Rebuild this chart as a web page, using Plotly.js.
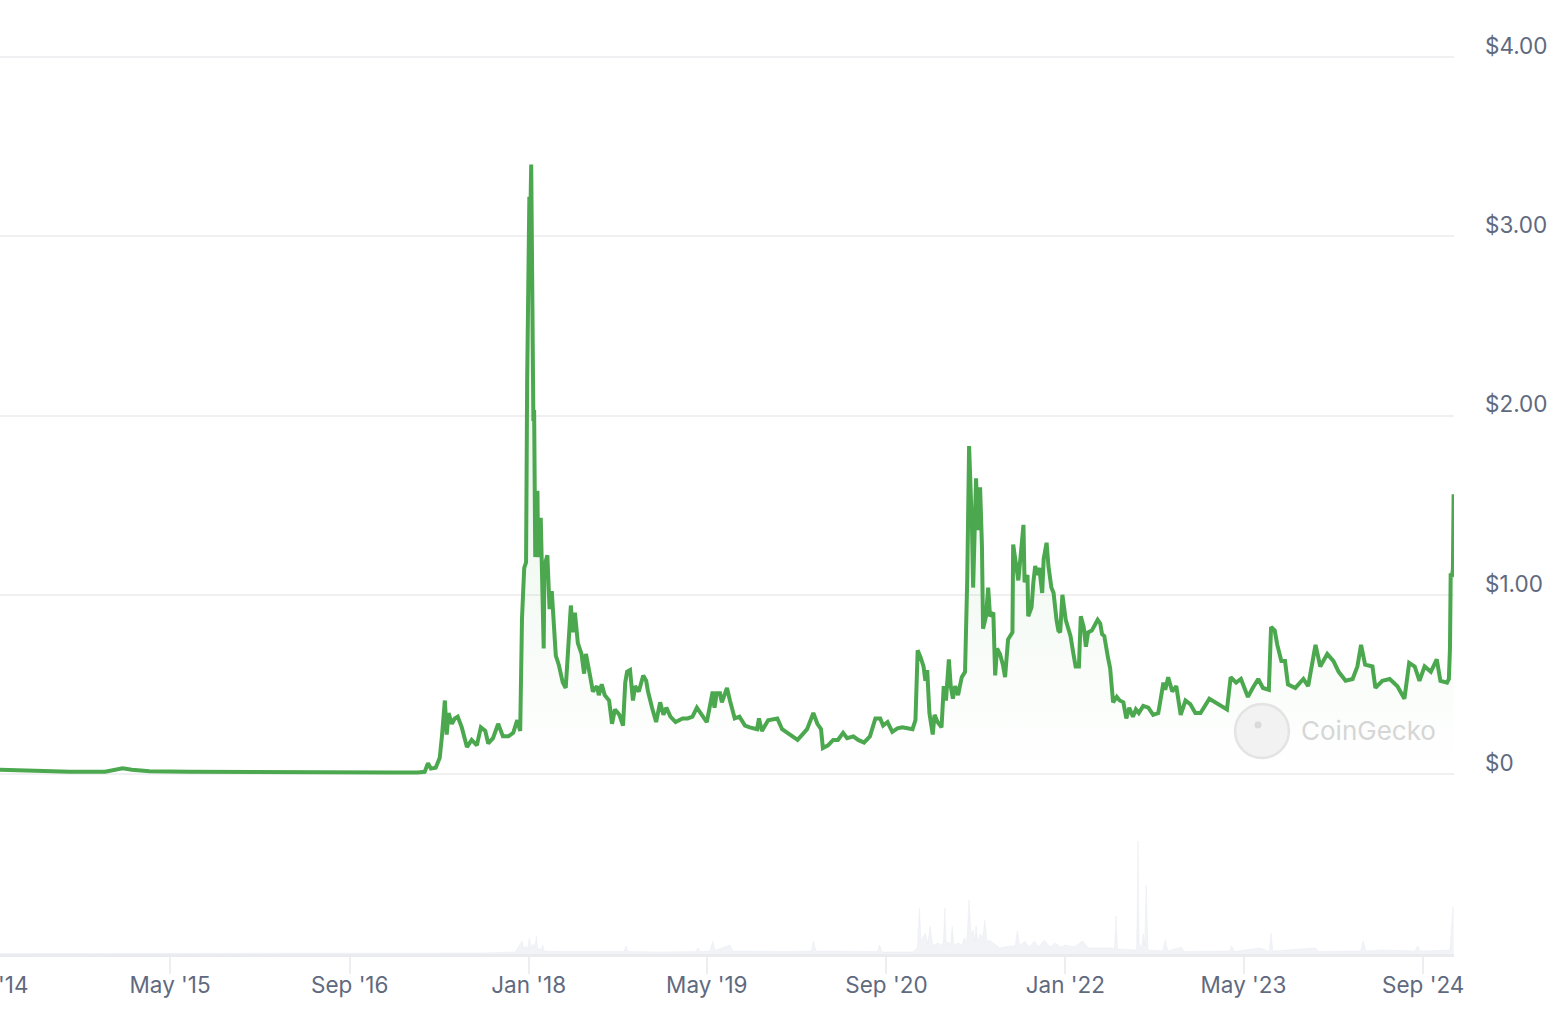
<!DOCTYPE html>
<html>
<head>
<meta charset="utf-8">
<script src="https://cdn.plot.ly/plotly-3.0.1.min.js"></script>
<style>
  html, body { margin: 0; padding: 0; background: #ffffff; }
  #chart { width: 1566px; height: 1012px; }
</style>
</head>
<body>
<div id="chart"></div>
<script>
// ---- Price series (USD) ----
const priceDates = [
  "2014-01-23","2014-02-25","2014-04-27","2014-08-01","2014-11-05","2014-12-04","2014-12-23","2015-01-17","2015-03-06","2015-06-23",
  "2015-11-07","2016-03-22","2016-08-06","2016-12-20","2017-03-05","2017-03-24","2017-04-02","2017-04-10","2017-04-23","2017-05-04",
  "2017-05-10","2017-05-18","2017-05-23","2017-05-28","2017-06-06","2017-06-14","2017-06-22","2017-07-03","2017-07-17","2017-07-30",
  "2017-08-13","2017-08-24","2017-09-05","2017-09-13","2017-09-26","2017-10-10","2017-10-23","2017-11-07","2017-11-20","2017-12-01",
  "2017-12-09","2017-12-14","2017-12-20","2017-12-25","2017-12-28","2018-01-03","2018-01-06","2018-01-08","2018-01-14","2018-01-16",
  "2018-01-19","2018-01-25","2018-01-27","2018-02-03","2018-02-11","2018-02-13","2018-02-21","2018-02-27","2018-03-05","2018-03-10",
  "2018-03-16","2018-03-24","2018-04-04","2018-04-12","2018-04-18","2018-04-26","2018-05-01","2018-05-07","2018-05-15","2018-05-25",
  "2018-06-01","2018-06-06","2018-06-17","2018-06-25","2018-07-06","2018-07-11","2018-07-19","2018-07-27","2018-08-08","2018-08-16",
  "2018-08-24","2018-09-05","2018-09-15","2018-09-21","2018-09-26","2018-10-04","2018-10-12","2018-10-18","2018-10-28","2018-11-09",
  "2018-11-17","2018-11-22","2018-12-03","2018-12-14","2018-12-25","2019-01-03","2019-01-11","2019-01-22","2019-02-05","2019-02-24",
  "2019-03-10","2019-03-23","2019-04-04","2019-04-17","2019-05-01","2019-05-17","2019-05-22","2019-05-28","2019-06-06","2019-06-11",
  "2019-06-25","2019-07-03","2019-07-16","2019-07-29","2019-08-13","2019-08-26","2019-09-15","2019-09-20","2019-09-28","2019-10-15",
  "2019-11-09","2019-11-22","2019-12-06","2019-12-19","2020-01-03","2020-01-16","2020-01-29","2020-02-15","2020-02-26","2020-03-07",
  "2020-03-12","2020-03-26","2020-04-09","2020-04-22","2020-05-06","2020-05-17","2020-06-03","2020-06-16","2020-07-02","2020-07-18",
  "2020-08-02","2020-08-15","2020-08-23","2020-09-04","2020-09-17","2020-10-01","2020-10-14","2020-10-28","2020-11-11","2020-11-19",
  "2020-11-25","2020-12-03","2020-12-11","2020-12-16","2020-12-21","2020-12-27","2021-01-05","2021-01-10","2021-01-18","2021-01-29",
  "2021-02-04","2021-02-10","2021-02-18","2021-02-23","2021-03-01","2021-03-07","2021-03-15","2021-03-25","2021-04-03","2021-04-09",
  "2021-04-11","2021-04-14","2021-04-22","2021-04-25","2021-05-03","2021-05-08","2021-05-14","2021-05-19","2021-05-22","2021-05-30",
  "2021-06-05","2021-06-10","2021-06-19","2021-06-24","2021-06-29","2021-07-07","2021-07-15","2021-07-21","2021-07-29","2021-08-10",
  "2021-08-12","2021-08-20","2021-08-26","2021-09-01","2021-09-09","2021-09-12","2021-09-20","2021-09-22","2021-10-01","2021-10-06",
  "2021-10-11","2021-10-17","2021-10-22","2021-10-30","2021-11-03","2021-11-11","2021-11-16","2021-11-24","2021-11-30","2021-12-08",
  "2021-12-13","2021-12-18","2021-12-24","2022-01-02","2022-01-07","2022-01-15","2022-01-23","2022-01-29","2022-02-07","2022-02-12",
  "2022-02-20","2022-02-26","2022-03-04","2022-03-14","2022-03-22","2022-03-30","2022-04-06","2022-04-11","2022-04-17","2022-04-22",
  "2022-04-27","2022-05-03","2022-05-08","2022-05-11","2022-05-21","2022-05-29","2022-06-08","2022-06-16","2022-06-24","2022-07-04",
  "2022-07-12","2022-07-20","2022-08-01","2022-08-15","2022-08-28","2022-09-11","2022-09-25","2022-09-30","2022-10-08","2022-10-19",
  "2022-10-30","2022-11-11","2022-11-24","2022-12-07","2022-12-21","2023-01-04","2023-01-28","2023-02-20","2023-03-17","2023-03-27",
  "2023-04-11","2023-04-24","2023-05-13","2023-05-26","2023-06-10","2023-06-23","2023-07-09","2023-07-15","2023-07-25","2023-08-01",
  "2023-08-12","2023-08-22","2023-08-30","2023-09-19","2023-10-11","2023-10-24","2023-11-13","2023-11-26","2023-12-15","2024-01-01",
  "2024-01-15","2024-02-03","2024-02-22","2024-03-06","2024-03-16","2024-03-27","2024-04-16","2024-04-24","2024-05-13","2024-06-02",
  "2024-06-23","2024-07-12","2024-07-25","2024-08-09","2024-08-22","2024-09-05","2024-09-22","2024-10-08","2024-10-18","2024-11-05",
  "2024-11-10","2024-11-13","2024-11-15","2024-11-18","2024-11-21","2024-11-23"
];
const priceUSD = [
  0.024,0.021,0.016,0.012,0.013,0.022,0.032,0.024,0.016,0.012,
  0.010,0.010,0.009,0.008,0.009,0.012,0.060,0.030,0.035,0.090,
  0.21,0.41,0.22,0.34,0.28,0.31,0.32,0.26,0.15,0.19,
  0.16,0.26,0.24,0.17,0.20,0.28,0.21,0.21,0.23,0.30,
  0.24,0.87,1.15,1.18,2.20,3.22,3.15,3.40,1.97,2.03,
  1.21,1.58,1.21,1.43,0.70,1.16,1.22,0.92,1.02,0.85,
  0.66,0.61,0.51,0.48,0.65,0.94,0.79,0.90,0.73,0.67,
  0.56,0.67,0.55,0.46,0.49,0.44,0.50,0.44,0.41,0.28,
  0.36,0.33,0.27,0.51,0.57,0.58,0.41,0.49,0.46,0.55,
  0.52,0.46,0.37,0.29,0.40,0.33,0.37,0.32,0.29,0.31,
  0.31,0.32,0.37,0.33,0.29,0.46,0.37,0.45,0.45,0.40,
  0.48,0.41,0.31,0.32,0.27,0.26,0.25,0.31,0.24,0.30,
  0.31,0.25,0.23,0.21,0.19,0.22,0.25,0.34,0.28,0.25,
  0.145,0.16,0.19,0.19,0.23,0.20,0.21,0.19,0.175,0.21,
  0.31,0.31,0.27,0.29,0.235,0.255,0.26,0.255,0.25,0.30,
  0.69,0.65,0.60,0.52,0.58,0.34,0.22,0.33,0.29,0.26,
  0.49,0.41,0.64,0.49,0.42,0.49,0.44,0.54,0.57,1.09,
  1.36,1.83,1.36,1.04,1.65,1.36,1.60,1.27,0.81,0.88,
  1.04,0.88,0.90,0.55,0.70,0.67,0.61,0.54,0.75,0.79,
  1.28,1.18,1.08,1.21,1.39,1.07,1.11,0.88,0.93,1.07,
  1.16,1.11,1.15,1.01,1.20,1.29,1.16,1.04,1.01,0.86,
  0.80,0.79,1.00,0.86,0.82,0.77,0.67,0.60,0.60,0.88,
  0.82,0.71,0.79,0.80,0.83,0.86,0.84,0.78,0.77,0.69,
  0.65,0.59,0.45,0.40,0.43,0.41,0.40,0.31,0.37,0.32,
  0.36,0.34,0.38,0.37,0.33,0.34,0.51,0.47,0.54,0.46,
  0.49,0.33,0.41,0.39,0.34,0.34,0.42,0.39,0.36,0.54,
  0.51,0.53,0.43,0.48,0.53,0.48,0.47,0.82,0.80,0.72,
  0.63,0.63,0.50,0.48,0.53,0.49,0.72,0.60,0.67,0.63,
  0.57,0.52,0.53,0.60,0.72,0.61,0.60,0.48,0.52,0.53,
  0.49,0.42,0.62,0.60,0.52,0.60,0.57,0.64,0.52,0.51,
  0.53,0.70,1.12,1.10,1.14,1.56
];

// ---- Trading volume (billion USD) ----
const volumeDates = [
  "2014-01-23","2017-01-17","2017-08-22","2017-11-26","2017-12-14","2017-12-20","2017-12-25","2017-12-30","2018-01-03","2018-01-08",
  "2018-01-14","2018-01-18","2018-01-22","2018-01-26","2018-01-30","2018-02-04","2018-02-08","2018-02-13","2018-03-26","2018-07-14",
  "2018-09-18","2018-09-23","2018-09-28","2018-12-25","2019-04-01","2019-04-07","2019-04-14","2019-05-10","2019-05-17","2019-05-24",
  "2019-07-03","2019-07-10","2019-12-14","2020-02-10","2020-02-15","2020-02-22","2020-06-22","2020-08-08","2020-08-13","2020-08-20",
  "2020-11-11","2020-11-24","2020-11-30","2020-12-04","2020-12-08","2020-12-16","2020-12-22","2020-12-29","2021-01-05","2021-01-13",
  "2021-01-21","2021-01-29","2021-02-03","2021-02-07","2021-02-11","2021-02-15","2021-02-23","2021-02-27","2021-03-04","2021-03-09",
  "2021-03-17","2021-03-25","2021-04-01","2021-04-08","2021-04-14","2021-04-19","2021-04-25","2021-04-29","2021-05-03","2021-05-08",
  "2021-05-14","2021-05-21","2021-05-27","2021-06-02","2021-06-08","2021-06-19","2021-07-07","2021-08-04","2021-08-18","2021-08-23",
  "2021-08-30","2021-09-12","2021-09-25","2021-10-09","2021-10-20","2021-11-05","2021-11-20","2021-12-05","2021-12-20","2022-01-02",
  "2022-01-25","2022-02-17","2022-03-05","2022-03-25","2022-05-08","2022-05-15","2022-05-19","2022-05-23","2022-06-26","2022-07-14",
  "2022-07-18","2022-07-21","2022-07-27","2022-08-01","2022-08-05","2022-08-09","2022-08-14","2022-09-23","2022-09-30","2022-10-07",
  "2022-11-13","2022-11-20","2023-03-23","2023-03-30","2023-04-06","2023-06-15","2023-07-10","2023-07-15","2023-07-20","2023-11-13",
  "2023-11-20","2024-03-15","2024-03-22","2024-03-30","2024-05-15","2024-08-10","2024-08-17","2024-08-24","2024-11-13","2024-11-21",
  "2024-11-23"
];
const volumeB = [
  0.2,0.2,0.5,1.0,6.5,2.5,4.0,2.5,8.0,3.0,
  5.0,3.0,9.0,2.5,3.0,1.8,4.5,1.5,1.2,1.2,
  1.2,4.0,1.2,1.0,1.2,3.0,1.2,1.5,6.5,1.8,
  4.5,1.5,1.2,1.5,6.5,1.5,1.2,1.2,4.5,1.0,
  1.0,3.0,23,6,8,10.5,5,14,4,5,
  5.5,4,6,23,4,6,5,14,4,5,
  5.5,4,8,6,27,10,12,6,14,6,
  10,8,17,6,7,5.5,3,4,4,11.5,
  4,6.5,3.5,6.5,3.5,7,3.5,5.5,3.5,4.5,
  3.5,6.5,3,3,3,2.5,19,2.5,2,2,
  56.5,5,3,10,4,34.5,2,1.5,7,1.5,
  3.5,1.2,1.5,4,1.2,3,1.2,10.5,1.5,3,
  1.2,1.5,6.5,1.5,2,1.5,4,1.5,2,23.5,
  20
];

// ---- Axis labels ----
const xTickDates = ["2015-05-01","2016-09-01","2018-01-01","2019-05-01","2020-09-01","2022-01-01","2023-05-01","2024-09-01"];
const xTickText  = ["May '15","Sep '16","Jan '18","May '19","Sep '20","Jan '22","May '23","Sep '24"];
const yTickVals  = [0, 1, 2, 3, 4];
const yTickText  = ["$0", "$1.00", "$2.00", "$3.00", "$4.00"];

const green = "#4ca84f";
const labelColor = "#5f6a80";
const fontFamily = "Inter, 'Noto Sans', 'Liberation Sans', sans-serif";
const tickSize = 22.5;

const traces = [
  {
    type: "scatter", mode: "lines",
    x: volumeDates, y: volumeB,
    xaxis: "x", yaxis: "y2",
    fill: "tozeroy",
    fillcolor: "rgba(230,234,240,0.55)",
    line: { color: "rgba(230,234,240,0.7)", width: 0.6 },
    hoverinfo: "skip"
  },
  {
    type: "scatter", mode: "lines",
    x: priceDates, y: priceUSD,
    xaxis: "x", yaxis: "y",
    fill: "tozeroy",
    fillgradient: {
      type: "vertical",
      start: 0, stop: 1.6,
      colorscale: [[0, "rgba(76,168,79,0.0)"], [1, "rgba(76,168,79,0.09)"]]
    },
    line: { color: green, width: 4 },
    hoverinfo: "skip"
  }
];

const layout = {
  width: 1566, height: 1012,
  margin: { l: 0, r: 112, t: 0, b: 58, pad: 0 },
  paper_bgcolor: "#ffffff",
  plot_bgcolor: "#ffffff",
  showlegend: false,
  font: { family: fontFamily, color: labelColor, size: tickSize },
  xaxis: {
    type: "date",
    range: ["2014-01-23", "2024-11-24"],
    anchor: "y2",
    showgrid: false,
    zeroline: false,
    showline: true, linecolor: "#e9ebef", linewidth: 3,
    ticks: "outside", ticklen: 17, tickwidth: 2, tickcolor: "#eceef1",
    tickvals: xTickDates, ticktext: xTickText,
    ticklabelstandoff: -8,
    tickfont: { family: fontFamily, size: tickSize, color: labelColor },
    fixedrange: true
  },
  yaxis: {
    domain: [0.1719, 1],
    range: [-0.0893, 4.318],
    side: "right",
    anchor: "x",
    showgrid: true, gridcolor: "#f0f0f3", gridwidth: 2,
    zeroline: false, showline: false,
    ticks: "",
    tickvals: yTickVals, ticktext: yTickText,
    ticklabelstandoff: 30,
    ticklabelshift: -11,
    tickfont: { family: fontFamily, size: tickSize, color: labelColor },
    fixedrange: true
  },
  yaxis2: {
    domain: [0, 0.14],
    range: [0, 66.8],
    anchor: "x",
    showgrid: false, zeroline: false, showline: false,
    showticklabels: false, ticks: "",
    fixedrange: true
  },
  shapes: [
    { type: "circle", xref: "paper", yref: "paper",
      x0: 0.8494, x1: 0.8865, y0: 0.2055, y1: 0.2621,
      fillcolor: "rgba(238,238,238,0.75)", line: { color: "rgba(225,225,225,0.9)", width: 2.5 }, layer: "above" },
    { type: "circle", xref: "paper", yref: "paper",
      x0: 0.8628, x1: 0.8676, y0: 0.2364, y1: 0.2437,
      fillcolor: "rgba(215,215,215,0.9)", line: { width: 0 }, layer: "above" }
  ],
  annotations: [
    { text: "CoinGecko", xref: "paper", yref: "paper", x: 0.8934, y: 0.2348,
      xanchor: "left", yanchor: "middle", showarrow: false,
      font: { family: fontFamily, size: 26, color: "#d6d6d6" } },
    { text: "Jan '14", xref: "paper", yref: "paper", x: -9 / 1454, y: -30 / 954,
      xanchor: "center", yanchor: "middle", showarrow: false,
      font: { family: fontFamily, size: tickSize, color: labelColor } }
  ]
};

Plotly.newPlot("chart", traces, layout, { staticPlot: true, displayModeBar: false });
</script>
</body>
</html>
